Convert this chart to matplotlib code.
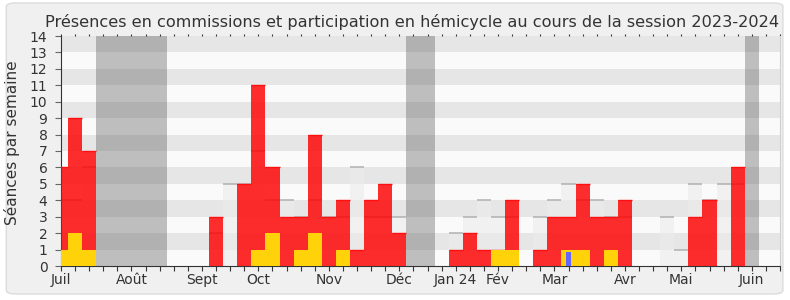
import numpy as np
import matplotlib
matplotlib.use("Agg")
import matplotlib.pyplot as plt
from matplotlib.patches import FancyBboxPatch

plt.rcParams["font.family"] = ["DejaVu Sans"]

# ---- données hebdomadaires (semaine 0 = début juillet 2023) ----
commission = [6, 9, 7, 0, 0, 0, 0, 0, 0, 0, 0, 3, 0, 5, 11, 6, 3, 3, 8, 3,
              4, 1, 4, 5, 2, 0, 0, 0, 1, 2, 1, 1, 4, 0, 1, 3, 3, 5, 3, 3,
              4, 0, 0, 0, 0, 3, 4, 0, 6, 0, 0, 0]
hemicycle = [1, 2, 1, 0, 0, 0, 0, 0, 0, 0, 0, 0, 0, 0, 1, 2, 0, 1, 2, 0,
             1, 0, 0, 0, 0, 0, 0, 0, 0, 0, 0, 1, 1, 0, 0, 0, 1, 1, 0, 1,
             0, 0, 0, 0, 0, 0, 0, 0, 0, 0, 0, 0]
questions = [0] * 36 + [1] + [0] * 15
mediane = [4, 4, 6, 0, 0, 0, 0, 0, 0, 0, 0, 2, 5, 5, 7, 4, 4, 3, 4, 3,
           3, 6, 3, 3, 3, 0, 0, 0, 2, 3, 4, 3, 3, 0, 3, 4, 5, 4, 4, 3,
           3, 0, 0, 3, 1, 5, 4, 5, 5, 0, 0, 0]
vacances = [(3, 7), (25, 26), (49, 49)]
mois = {0: "Juil", 5: "Août", 10: "Sept", 14: "Oct", 19: "Nov", 24: "Déc",
        28: "Jan 24", 31: "Fév", 35: "Mar", 40: "Avr", 44: "Mai", 49: "Juin"}

weeks = np.arange(len(commission))
commission = np.array(commission)
hemicycle = np.array(hemicycle)
questions = np.array(questions)
mediane = np.array(mediane)

fig = plt.figure(figsize=(7.9, 3.0), dpi=100)
fig.patch.set_facecolor("white")
fig.patches.append(FancyBboxPatch(
    (0.008, 0.02), 0.983, 0.97, boxstyle="round,pad=0,rounding_size=0.012",
    transform=fig.transFigure, facecolor="#f0f0f0", edgecolor="#dcdcdc",
    linewidth=1.0, zorder=-5))

ax = fig.add_axes([61 / 790, 34 / 300, 719 / 790, 230 / 300])
ax.set_facecolor("#fafafa")
ax.set_xlim(0, len(weeks) - 1)
ax.set_ylim(0, 14)

# bandes horizontales
for y0 in range(1, 14, 2):
    ax.axhspan(y0, y0 + 1, color="#e6e6e6", lw=0, zorder=0)

# périodes de vacances parlementaires
for s, e in vacances:
    ax.axvspan(s - 0.5, e + 0.5, color=(0.27, 0.27, 0.27), alpha=0.33,
               lw=0, zorder=1)

# médiane des députés
m = mediane > 0
ax.bar(weeks[m], mediane[m], width=1.0, color="#ececec", alpha=0.6,
       lw=0, zorder=2)
ax.hlines(mediane[m], weeks[m] - 0.5, weeks[m] + 0.5, color="#b0b0b0",
          lw=1.1, zorder=2.5)

# présences en commission
c = commission > 0
ax.bar(weeks[c], commission[c], width=1.0, color="#ff0000", alpha=0.82,
       lw=0, zorder=3)
ax.hlines(commission[c], weeks[c] - 0.5, weeks[c] + 0.5, color="#ff1010",
          lw=1.0, zorder=3.2)

# participation en hémicycle
h = hemicycle > 0
ax.bar(weeks[h], hemicycle[h], width=1.0, color="#ffd20a", lw=0, zorder=4)

# questions orales
q = questions > 0
ax.bar(weeks[q], questions[q] * 0.85, width=0.33, color="#6666ff", lw=0,
       zorder=5)

# axes
ax.set_yticks(range(0, 15))
ax.tick_params(axis="y", length=4.3, width=0.8, color="#666666",
               labelsize=10, labelcolor="#333333", pad=5.5)
ax.set_xticks(weeks)
ax.set_xticklabels([mois.get(i, "") for i in weeks])
ax.tick_params(axis="x", length=3.4, width=0.8, color="#333333",
               labelsize=10, labelcolor="#333333", pad=1.5)
ax.spines["top"].set_visible(False)
ax.spines["right"].set_color("#d0d0d0")
ax.spines["left"].set_color("#333333")
ax.spines["bottom"].set_color("#333333")

top = ax.secondary_xaxis("top")
top.set_xticks(weeks)
top.set_xticklabels([])
top.tick_params(length=1.5, width=0.8, color="#333333")
top.spines["top"].set_visible(False)

fig.text(0.522, 0.91, "Présences en commissions et participation en hémicycle "
         "au cours de la session 2023-2024", ha="center", va="baseline",
         fontsize=11.6, color="#333333")
fig.text(12 / 790, 0.525, "Séances par semaine", rotation=90, ha="center",
         va="center", fontsize=11, color="#333333")

fig.savefig("out.png", dpi=100, facecolor=fig.get_facecolor())
